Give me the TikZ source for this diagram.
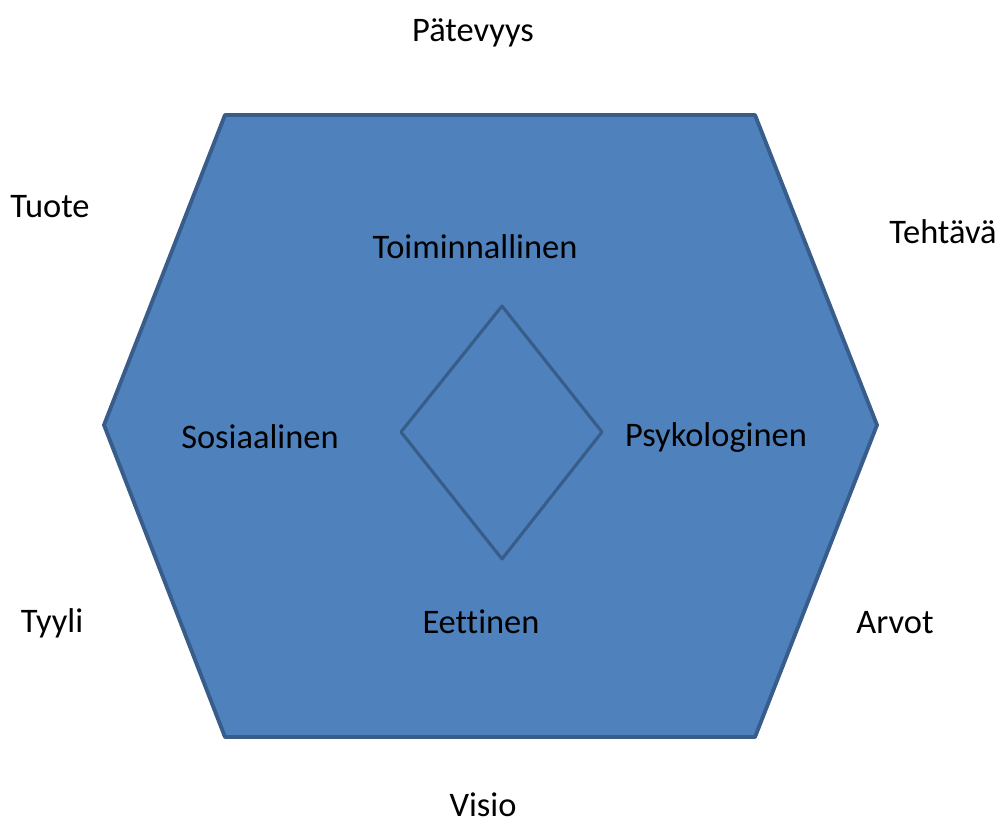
\documentclass[tikz,border=0pt]{standalone}
\usepackage{fontspec}
\setmainfont[Ligatures=NoCommon]{Carlito}
\usetikzlibrary{positioning}
\definecolor{hexfill}{HTML}{4F81BD}
\definecolor{hexline}{HTML}{385D8A}
\tikzset{lbl/.style={font=\fontsize{19.6}{22}\selectfont, text=black, inner sep=0pt}}

\begin{document}
\begin{tikzpicture}[x=0.02cm, y=-0.02cm]
\useasboundingbox (0,0) rectangle (1001,825);
\draw[fill=hexfill, draw=hexline, line width=2.2pt, line join=round]
  (225,115) -- (755,115) -- (877,425) -- (755,737) -- (225,737) -- (104,425) -- cycle;
\draw[draw=hexline, line width=1.8pt, line join=round]
  (502,306) -- (602,432) -- (502,559) -- (401,432) -- cycle;
\node[lbl] (pat) at (473,33) {Pätevyys};
\node[lbl] (tuote) at (50,207) {Tuote};
\node[lbl, anchor=west] (teht) at (889,232) {Tehtävä};
\node[lbl] (toim) at (475,247) {Toiminnallinen};
\node[lbl] (sos) at (260,437) {Sosiaalinen};
\node[lbl] (psy) at (716,437) {Psykologinen};
\node[lbl] (tyyli) at (52,623) {Tyyli};
\node[lbl] (eet) at (481,622) {Eettinen};
\node[lbl] (arvot) at (895,623) {Arvot};
\node[lbl] (visio) at (483,805) {Visio};
\end{tikzpicture}
\end{document}
